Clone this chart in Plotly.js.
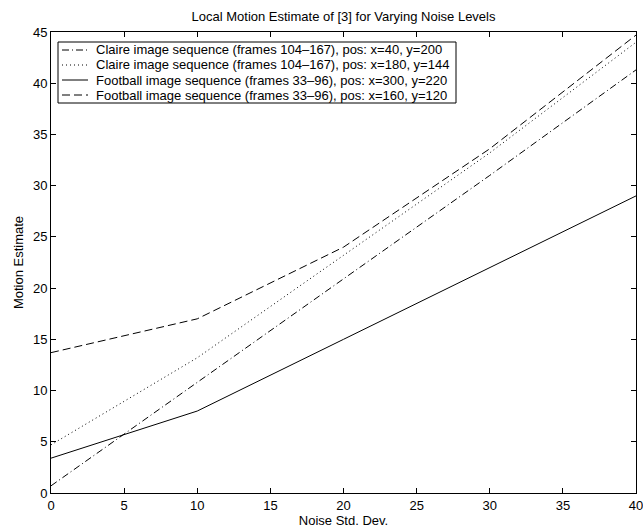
<!DOCTYPE html>
<html><head><meta charset="utf-8">
<script src="https://cdn.plot.ly/plotly-3.0.1.min.js"></script>
<style>html,body{margin:0;padding:0;background:#fff}#chart{width:643px;height:528px}</style>
</head><body><div id="chart"></div>
<script>
// Data
const noiseStd = [0, 10, 20, 30, 40];
const claire40_200 = [0.7, 10.8, 20.9, 31.0, 41.3];
const claire180_144 = [4.7, 13.2, 23.2, 33.2, 44.0];
const football300_220 = [3.4, 8.0, 15.0, 22.0, 29.0];
const football160_120 = [13.7, 17.0, 24.0, 33.6, 44.7];
const seriesNames = [
  "Claire image sequence (frames 104\u2013167), pos: x=40, y=200",
  "Claire image sequence (frames 104\u2013167), pos: x=180, y=144",
  "Football image sequence (frames 33\u201396), pos: x=300, y=220",
  "Football image sequence (frames 33\u201396), pos: x=160, y=120"
];
const xTicks = [0, 5, 10, 15, 20, 25, 30, 35, 40];
const yTicks = [0, 5, 10, 15, 20, 25, 30, 35, 40, 45];

const dashes = ["7px,3px,1px,3px", "1px,3px", "solid", "8px,4px"];
const seriesData = [claire40_200, claire180_144, football300_220, football160_120];

const traces = seriesData.map((ys, i) => ({
  x: noiseStd, y: ys, type: 'scatter', mode: 'lines', name: seriesNames[i],
  line: {color: '#000', width: 1, dash: dashes[i]}, showlegend: false, hoverinfo: 'skip'
}));

// plot area in pixels
const W = 643, H = 528, L = 51, R = 636, T = 32, B = 493;
const px2x = p => (p - L) / (R - L);
const py2y = p => (B - p) / (B - T);
const FONT = 'Liberation Sans, Arial, Helvetica, sans-serif';

const shapes = [{
  type: 'rect', xref: 'paper', yref: 'paper',
  x0: px2x(58), x1: px2x(456), y0: py2y(103), y1: py2y(42),
  line: {color: '#000', width: 1}, fillcolor: '#fff'
}];
const annotations = [];
const rowY = [50, 65, 80, 95];
seriesNames.forEach((n, i) => {
  shapes.push({type: 'line', xref: 'paper', yref: 'paper',
    x0: px2x(62), x1: px2x(88), y0: py2y(rowY[i]), y1: py2y(rowY[i]),
    line: {color: '#000', width: 1, dash: dashes[i]}});
  annotations.push({xref: 'paper', yref: 'paper', x: px2x(94), y: py2y(rowY[i]),
    xanchor: 'left', yanchor: 'middle', text: n, showarrow: false,
    font: {family: FONT, size: 13, color: '#000'}});
});

const axisCommon = {
  showline: true, linecolor: '#000', linewidth: 1, mirror: 'ticks',
  ticks: 'inside', ticklen: 5, tickcolor: '#000', tickwidth: 1,
  showgrid: false, zeroline: false, automargin: false, ticklabeloverflow: 'allow',
  tickfont: {family: FONT, size: 13, color: '#000'}
};

const layout = {
  width: W, height: H,
  margin: {l: L, r: W - R, t: T, b: H - B, pad: 0},
  paper_bgcolor: '#fff', plot_bgcolor: '#fff',
  font: {family: FONT, color: '#000'},
  title: {text: 'Local Motion Estimate of [3] for Varying Noise Levels',
    font: {size: 13, color: '#000'}, x: (L + R) / 2 / W, xanchor: 'center',
    y: 1 - 16 / H, yanchor: 'middle', yref: 'container'},
  xaxis: Object.assign({}, axisCommon, {range: [0, 40], tickvals: xTicks,
    title: {text: 'Noise Std. Dev.', font: {size: 13, color: '#000'}, standoff: 2}}),
  yaxis: Object.assign({}, axisCommon, {range: [0, 45], tickvals: yTicks,
    title: {text: 'Motion Estimate', font: {size: 13, color: '#000'}, standoff: 6}}),
  shapes: shapes, annotations: annotations, showlegend: false
};

Plotly.newPlot('chart', traces, layout, {displayModeBar: false, staticPlot: true});
</script></body></html>
